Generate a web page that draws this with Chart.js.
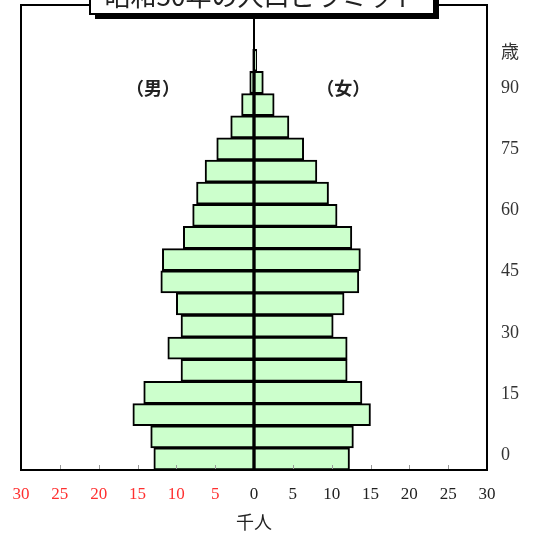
<!DOCTYPE html>
<html>
<head>
<meta charset="utf-8">
<script src="https://cdn.jsdelivr.net/npm/chart.js@4"></script>
<style>
  html, body { margin: 0; padding: 0; background: #fff; }
  #wrap { width: 533px; height: 533px; }
</style>
</head>
<body>
<div id="wrap"><canvas id="c" width="533" height="533"></canvas></div>
<script>
const ageGroups = ['0-4','5-9','10-14','15-19','20-24','25-29','30-34','35-39','40-44','45-49',
  '50-54','55-59','60-64','65-69','70-74','75-79','80-84','85-89','90-94','95-99','100-'];
// 千人
const male   = [12.9, 13.3, 15.6, 14.2, 9.4, 11.1, 9.4, 10.0, 12.0, 11.8, 9.1, 7.9, 7.4, 6.3, 4.8, 3.0, 1.6, 0.55, 0.17];
const female = [12.3, 12.8, 15.0, 13.9, 12.0, 12.0, 10.2, 11.6, 13.5, 13.7, 12.6, 10.7, 9.6, 8.1, 6.4, 4.5, 2.6, 1.2, 0.35];
const ageTicks = [0, 15, 30, 45, 60, 75, 90];
const unitTick = 99; // where 歳 sits on the age axis
const titleText = '昭和50年の人口ピラミッド';
const xTitle = '千人';

const serif = "'Liberation Serif', 'DejaVu Serif', serif";
const jp = "'Noto Sans CJK JP', sans-serif";

const decor = {
  id: 'decor',
  afterDraw(chart) {
    const { ctx, chartArea: a, scales } = chart;
    const x = scales.x, y2 = scales.y2;
    ctx.save();
    // small tick marks along the bottom, inside the frame
    ctx.strokeStyle = '#999'; ctx.lineWidth = 1;
    x.ticks.forEach(t => {
      const px = Math.round(x.getPixelForValue(t.value)) + 0.5;
      ctx.beginPath(); ctx.moveTo(px, a.bottom); ctx.lineTo(px, a.bottom - 5); ctx.stroke();
    });
    // frame
    ctx.strokeStyle = '#000'; ctx.lineWidth = 2;
    ctx.strokeRect(a.left, a.top, a.right - a.left, a.bottom - a.top);
    // centre line
    const cx = x.getPixelForValue(0);
    ctx.beginPath(); ctx.moveTo(cx, a.bottom); ctx.lineTo(cx, 14); ctx.stroke();
    // title box with shadow
    ctx.fillStyle = '#000';
    ctx.fillRect(95, -5, 344, 24);
    ctx.fillStyle = '#fff';
    ctx.fillRect(90, -10, 344, 24);
    ctx.strokeRect(90, -10, 344, 24);
    ctx.fillStyle = '#222';
    ctx.font = '26px ' + jp;
    ctx.textAlign = 'center'; ctx.textBaseline = 'alphabetic';
    ctx.fillText(titleText, 262, 6);
    // sex labels
    ctx.font = 'bold 18px ' + jp;
    ctx.textBaseline = 'middle';
    ctx.fillText('（男）', x.getPixelForValue(-13), y2.getPixelForValue(90));
    ctx.fillText('（女）', x.getPixelForValue(11.5), y2.getPixelForValue(90));
    ctx.restore();
  }
};

new Chart(document.getElementById('c'), {
  type: 'bar',
  data: {
    labels: ageGroups,
    datasets: [
      { label: '男', data: male.map(v => -v), backgroundColor: '#ccffcc', borderColor: '#000',
        borderWidth: 2, borderSkipped: false, barPercentage: 1, categoryPercentage: 1 },
      { label: '女', data: female, backgroundColor: '#ccffcc', borderColor: '#000',
        borderWidth: 2, borderSkipped: false, barPercentage: 1, categoryPercentage: 1 }
    ]
  },
  options: {
    indexAxis: 'y',
    responsive: false,
    animation: false,
    layout: { padding: { left: 21, top: 5, right: 0, bottom: 0 } },
    plugins: { legend: { display: false }, tooltip: { enabled: false } },
    scales: {
      x: {
        type: 'linear', min: -30, max: 30, stacked: true,
        grid: { display: false, drawTicks: false },
        border: { display: false },
        ticks: {
          stepSize: 5, padding: 14, maxRotation: 0,
          font: { family: serif, size: 17 },
          color: c => c.tick && c.tick.value < 0 ? '#ff3030' : '#222',
          callback: v => Math.abs(v)
        },
        title: { display: true, text: xTitle, color: '#222', font: { family: jp, size: 18 }, padding: 0 },
        afterFit: s => { s.height = 63; s.paddingLeft = 0; s.paddingRight = 0; }
      },
      y: {
        type: 'category', stacked: true, reverse: true, display: false
      },
      y2: {
        type: 'linear', position: 'right', min: -3.6, max: 110.3, offset: false,
        grid: { display: false, offset: false }, border: { display: false },
        afterBuildTicks: s => { s.ticks = ageTicks.concat([unitTick]).map(v => ({ value: v })); },
        ticks: {
          padding: 6, color: '#333',
          font: c => c.tick && c.tick.value === unitTick ? { family: jp, size: 18 } : { family: serif, size: 18 },
          callback: v => v === unitTick ? '歳' : v
        },
        afterFit: s => { s.width = 46; s.paddingTop = 0; s.paddingBottom = 0; }
      }
    }
  },
  plugins: [decor]
});
</script>
</body>
</html>
